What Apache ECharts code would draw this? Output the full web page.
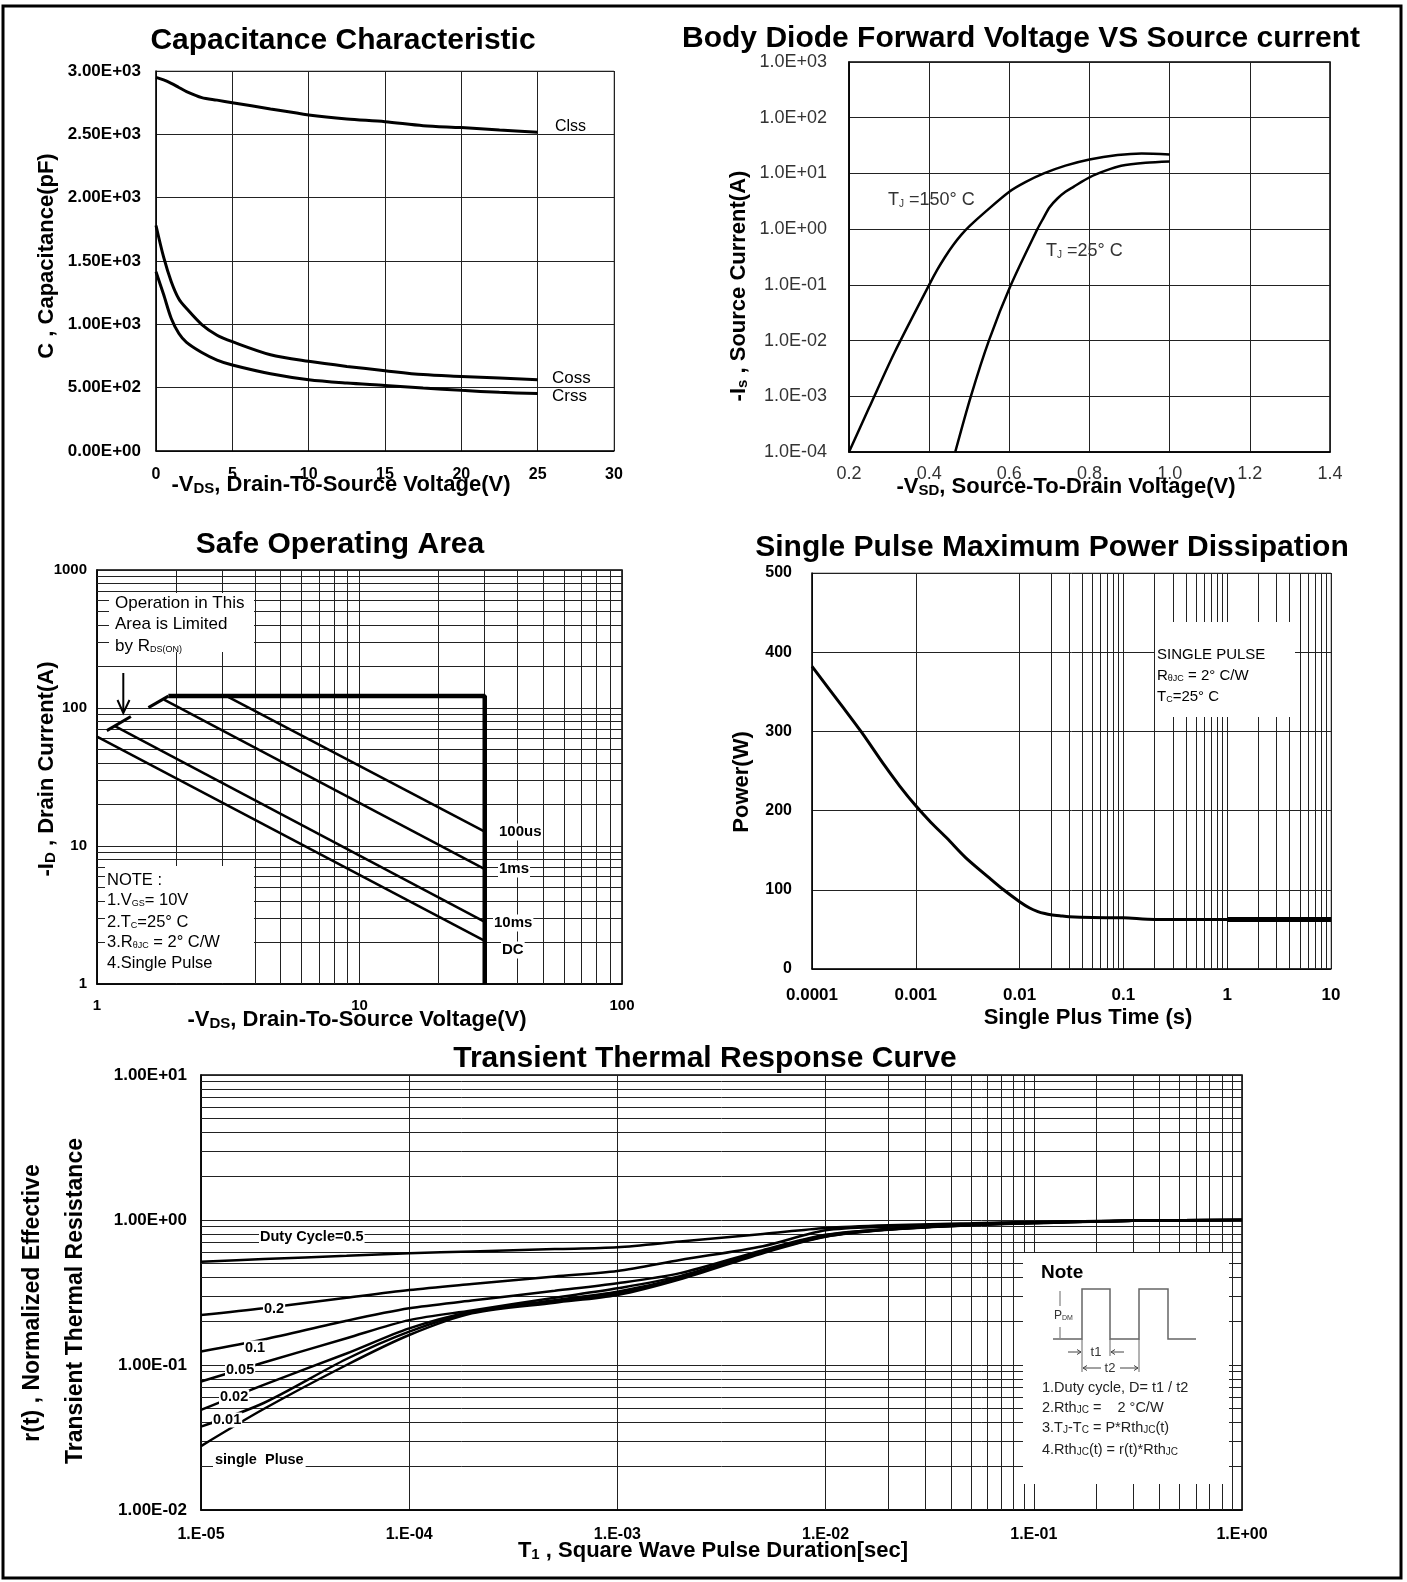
<!DOCTYPE html>
<html>
<head>
<meta charset="utf-8">
<script src="https://cdn.jsdelivr.net/npm/echarts@6/dist/echarts.min.js"></script>
<style>
  html, body { margin: 0; background: #fff; }
  #chart { width: 1407px; height: 1582px; }
</style>
</head>
<body>
<div id="chart"></div>
<script>
const FONT = '"Liberation Sans", Arial, Helvetica, sans-serif';

// Capacitance characteristic
const capVds = [0, 0.5, 1, 1.5, 2, 3, 4, 5, 7.5, 10, 12.5, 15, 17.5, 20, 22.5, 25];
const ciss = [2950, 2930, 2903, 2870, 2837, 2790, 2770, 2750, 2700, 2653, 2621, 2600, 2568, 2553, 2534, 2516];
const coss = [1780, 1530, 1337, 1200, 1125, 998, 914, 863, 760, 708, 668, 634, 603, 589, 576, 563];
const crss = [1415, 1235, 1046, 928, 858, 778, 718, 679, 610, 563, 537, 518, 497, 479, 463, 453];
const capXLabels = ['0', '5', '10', '15', '20', '25', '30'];
const capYLabels = ['0.00E+00', '5.00E+02', '1.00E+03', '1.50E+03', '2.00E+03', '2.50E+03', '3.00E+03'];

// Body diode forward voltage
const vsd150 = [0.2, 0.25, 0.313, 0.4, 0.42, 0.44, 0.46, 0.48, 0.5, 0.54, 0.6, 0.64, 0.686, 0.74, 0.8, 0.87, 0.93, 1.0];
const is150 = [1e-4, 6.2e-4, 0.006, 0.1, 0.185, 0.319, 0.518, 0.787, 1.12, 2.04, 4.69, 6.97, 10, 13.8, 17.8, 21.4, 22.9, 21.9];
const vsd25 = [0.465, 0.504, 0.549, 0.604, 0.67, 0.685, 0.70, 0.72, 0.74, 0.76, 0.8, 0.84, 0.879, 0.94, 1.0];
const is25 = [1e-4, 1e-3, 0.01, 0.1, 1.0, 1.58, 2.45, 3.55, 4.68, 5.75, 8.5, 11.2, 13.7, 15.5, 16.4];
const diodeXLabels = ['0.2', '0.4', '0.6', '0.8', '1.0', '1.2', '1.4'];
const diodeYLabels = ['1.0E-04', '1.0E-03', '1.0E-02', '1.0E-01', '1.0E+00', '1.0E+01', '1.0E+02', '1.0E+03'];

// Safe operating area
const limitV = [1.87, 30, 30];
const limitI = [122, 122, 1];
const us100V = [3.17, 30];
const us100I = [120, 12.7];
const ms1V = [1.8, 30];
const ms1I = [115, 6.8];
const ms10V = [1.17, 30];
const ms10I = [74, 2.82];
const dcV = [1, 30];
const dcI = [62, 2.05];
const rdsLowV = [1.09, 1.346];
const rdsLowI = [68.6, 86.7];
const rdsHighV = [1.57, 1.87];
const rdsHighI = [100.7, 122];
const soaXLabels = ['1', '10', '100'];
const soaYLabels = ['1', '10', '100', '1000'];

// Single pulse power
const pulseT = [1e-4, 2e-4, 3e-4, 5e-4, 7e-4, 1e-3, 1.4e-3, 2e-3, 3e-3, 5e-3, 7e-3, 1e-2, 1.25e-2, 1.5e-2, 1.75e-2, 2e-2, 2.5e-2, 3e-2, 5e-2, 0.1, 0.2, 0.5, 1, 10];
const pulseP = [382, 330, 299, 257, 231, 206, 185, 165, 141, 116, 100, 85, 77, 72.5, 70, 68.5, 67, 66, 65, 64.6, 62.5, 62.5, 62.5, 62.5];
const pulseTailT = [1, 10];
const pulseTailP = [62.5, 62.5];
const pulseXLabels = ['0.0001', '0.001', '0.01', '0.1', '1', '10'];
const pulseYLabels = ['0', '100', '200', '300', '400', '500'];

// Transient thermal response
const thermT = [1e-5, 2e-5, 5e-5, 1e-4, 2e-4, 5e-4, 1e-3, 2e-3, 5e-3, 1e-2, 2e-2, 5e-2, 1e-1, 3e-1, 1];
const rD05 = [0.516, 0.538, 0.566, 0.589, 0.607, 0.63, 0.648, 0.71, 0.80, 0.88, 0.92, 0.95, 0.97, 0.99, 1.0];
const rD02 = [0.221, 0.246, 0.291, 0.329, 0.362, 0.408, 0.445, 0.53, 0.66, 0.85, 0.90, 0.94, 0.965, 0.99, 1.0];
const rD01 = [0.124, 0.15, 0.202, 0.246, 0.278, 0.325, 0.366, 0.43, 0.62, 0.79, 0.87, 0.93, 0.96, 0.99, 1.0];
const rD005 = [0.077, 0.104, 0.153, 0.204, 0.238, 0.291, 0.338, 0.41, 0.61, 0.785, 0.865, 0.93, 0.96, 0.99, 1.0];
const rD002 = [0.049, 0.073, 0.12, 0.179, 0.233, 0.28, 0.32, 0.40, 0.60, 0.775, 0.86, 0.925, 0.955, 0.99, 1.0];
const rD001 = [0.0376, 0.0547, 0.11, 0.170, 0.23, 0.275, 0.312, 0.395, 0.60, 0.77, 0.86, 0.925, 0.955, 0.99, 1.0];
const rSingle = [0.0276, 0.0497, 0.10, 0.161, 0.227, 0.269, 0.304, 0.39, 0.59, 0.765, 0.855, 0.92, 0.95, 0.99, 1.0];
const thermXLabels = ['1.E-05', '1.E-04', '1.E-03', '1.E-02', '1.E-01', '1.E+00'];
const thermYLabels = ['1.00E-02', '1.00E-01', '1.00E+00', '1.00E+01'];

function pairs(xs, ys) {
  return xs.map(function (x, i) { return [x, ys[i]]; });
}
function lg(v) { return Math.round(Math.log10(v)); }

// 2..9 grid lines inside each decade of a log axis
function logMinors(lo, hi) {
  var out = [];
  for (var e = Math.floor(Math.log10(lo)); e < Math.log10(hi); e++) {
    for (var m = 2; m <= 9; m++) {
      var v = m * Math.pow(10, e);
      if (v > lo && v < hi) out.push(v);
    }
  }
  return out;
}

function axis(grid, type, min, max, label, extra) {
  return Object.assign({
    gridIndex: grid, type: type, min: min, max: max,
    axisLine: { show: true, onZero: false, lineStyle: { color: '#000', width: 1.5 } },
    axisTick: { show: false },
    splitLine: { show: true, lineStyle: { color: '#222', width: 1 } },
    axisLabel: Object.assign({ color: '#000', fontFamily: FONT, fontSize: 16, fontWeight: 'bold' }, label)
  }, extra || {});
}

function curve(g, data, w, extra) {
  return Object.assign({
    type: 'line', xAxisIndex: g, yAxisIndex: g, data: data,
    symbol: 'none', showSymbol: false, smooth: 0.3, silent: true, z: 10,
    lineStyle: { color: '#000', width: w }
  }, extra || {});
}

function minorGrid(g, xs, ys) {
  return {
    type: 'line', xAxisIndex: g, yAxisIndex: g, data: [], silent: true, z: 1,
    markLine: {
      silent: true, z: 1, symbol: ['none', 'none'], label: { show: false },
      emphasis: { disabled: true },
      lineStyle: { color: '#222', width: 1, type: 'solid' },
      data: xs.map(function (v) { return { xAxis: v }; }).concat(ys.map(function (v) { return { yAxis: v }; }))
    }
  };
}

// graphic helpers
function T(x, y, text, size, o) {
  o = o || {};
  return {
    type: 'text', x: x, y: y, z: 100, silent: true, rotation: o.rot || 0,
    style: {
      text: text, fontFamily: FONT, fontSize: size, fontWeight: o.bold ? 'bold' : 'normal',
      fill: o.color || '#000', textAlign: o.align || 'left', verticalAlign: 'middle', textVerticalAlign: 'middle',
      backgroundColor: o.bg, padding: o.pad, rich: o.rich
    }
  };
}
function sub(size, bold, color) {
  return { s: { fontSize: size, fontFamily: FONT, fontWeight: bold ? 'bold' : 'normal', fill: color || '#000', verticalAlign: 'bottom' } };
}
function L(points, w, color) {
  return { type: 'polyline', z: 100, silent: true, shape: { points: points }, style: { stroke: color || '#000', lineWidth: w } };
}
function box(x, y, w, h) {
  return { type: 'rect', z: 90, silent: true, shape: { x: x, y: y, width: w, height: h }, style: { fill: '#fff' } };
}

var graphics = [
  // titles
  T(343, 41, 'Capacitance Characteristic', 30, { bold: true, align: 'center' }),
  T(1021, 39, 'Body Diode Forward Voltage VS Source current', 30, { bold: true, align: 'center' }),
  T(340, 545, 'Safe Operating Area', 30, { bold: true, align: 'center' }),
  T(1052, 548, 'Single Pulse Maximum Power Dissipation', 30, { bold: true, align: 'center' }),
  T(705, 1059, 'Transient Thermal Response Curve', 30, { bold: true, align: 'center' }),

  // axis names
  T(341, 485, '-V{s|DS}, Drain-To-Source Voltage(V)', 22, { bold: true, align: 'center', rich: sub(15, true) }),
  T(47, 256, 'C , Capacitance(pF)', 22, { bold: true, align: 'center', rot: Math.PI / 2 }),
  T(1066, 487, '-V{s|SD}, Source-To-Drain Voltage(V)', 22, { bold: true, align: 'center', rich: sub(15, true) }),
  T(739, 286, '-I{s|s} , Source Current(A)', 22, { bold: true, align: 'center', rot: Math.PI / 2, rich: sub(15, true) }),
  T(357, 1020, '-V{s|DS}, Drain-To-Source Voltage(V)', 22, { bold: true, align: 'center', rich: sub(15, true) }),
  T(47, 769, '-I{s|D} , Drain Current(A)', 22, { bold: true, align: 'center', rot: Math.PI / 2, rich: sub(15, true) }),
  T(1088, 1018, 'Single Plus Time (s)', 22, { bold: true, align: 'center' }),
  T(742, 782, 'Power(W)', 22, { bold: true, align: 'center', rot: Math.PI / 2 }),
  T(713, 1551, 'T{s|1} , Square Wave Pulse Duration[sec]', 22, { bold: true, align: 'center', rich: sub(15, true) }),
  T(33, 1303, 'r(t) , Normalized Effective', 23, { bold: true, align: 'center', rot: Math.PI / 2 }),
  T(76, 1301, 'Transient Thermal Resistance', 23, { bold: true, align: 'center', rot: Math.PI / 2 }),

  // capacitance labels
  T(555, 127, 'Clss', 16),
  T(552, 378, 'Coss', 17),
  T(552, 396, 'Crss', 17),

  // diode labels
  T(888, 200, 'T{s|J} =150° C', 18, { color: '#333', rich: sub(10, false, '#333') }),
  T(1046, 251, 'T{s|J} =25° C', 18, { color: '#333', rich: sub(10, false, '#333') }),

  // SOA annotations
  box(109, 593, 145, 59),
  T(115, 603, 'Operation in This', 17),
  T(115, 624, 'Area is Limited', 17),
  T(115, 646, 'by R{s|DS(ON)}', 17, { rich: sub(9) }),
  L([[123.3, 673], [123.3, 712]], 2),
  L([[117.5, 700], [123.3, 713], [129.5, 700]], 2),
  box(105, 866, 149, 117),
  T(107, 880, 'NOTE :', 16.5),
  T(107, 900, '1.V{s|GS}= 10V', 16.5, { rich: sub(9) }),
  T(107, 922, '2.T{s|C}=25° C', 16.5, { rich: sub(9) }),
  T(107, 942, '3.R{s|θJC} = 2° C/W', 16.5, { rich: sub(9) }),
  T(107, 963, '4.Single Pulse', 16.5),
  T(498, 832, '100us', 15, { bold: true, bg: '#fff', pad: [1, 1] }),
  T(498, 869, '1ms', 15, { bold: true, bg: '#fff', pad: [1, 1] }),
  T(493, 923, '10ms', 15, { bold: true, bg: '#fff', pad: [1, 1] }),
  T(501, 950, 'DC', 15, { bold: true, bg: '#fff', pad: [1, 1] }),

  // power legend
  box(1155, 622, 140, 95),
  T(1157, 655, 'SINGLE PULSE', 15),
  T(1157, 676, 'R{s|θJC} = 2° C/W', 15, { rich: sub(9) }),
  T(1157, 697, 'T{s|C}=25° C', 15, { rich: sub(9) }),

  // transient curve labels
  T(259, 1237, 'Duty Cycle=0.5', 14.5, { bold: true, bg: '#fff', pad: [0, 1] }),
  T(263, 1309, '0.2', 14.5, { bold: true, bg: '#fff', pad: [0, 1] }),
  T(244, 1348, '0.1', 14.5, { bold: true, bg: '#fff', pad: [0, 1] }),
  T(225, 1370, '0.05', 14.5, { bold: true, bg: '#fff', pad: [0, 1] }),
  T(219, 1397, '0.02', 14.5, { bold: true, bg: '#fff', pad: [0, 1] }),
  T(212, 1420, '0.01', 14.5, { bold: true, bg: '#fff', pad: [0, 1] }),
  T(213, 1460, 'single  Pluse', 14.5, { bold: true, bg: '#fff', pad: [0, 2] }),

  // transient note
  box(1023, 1253, 206, 231),
  T(1041, 1273, 'Note', 19, { bold: true }),
  L([[1053, 1339], [1082, 1339], [1082, 1289], [1110, 1289], [1110, 1339], [1139, 1339], [1139, 1289], [1168, 1289], [1168, 1339], [1196, 1339]], 1.5, '#666'),
  L([[1060, 1291], [1060, 1306]], 1, '#666'),
  L([[1060, 1327], [1060, 1338]], 1, '#666'),
  T(1054, 1316, 'P{s|DM}', 12, { color: '#333', rich: sub(7, false, '#333') }),
  L([[1082, 1339], [1082, 1372]], 1, '#666'),
  L([[1110, 1339], [1110, 1356]], 1, '#666'),
  L([[1139, 1339], [1139, 1372]], 1, '#666'),
  L([[1068, 1352], [1081, 1352]], 1, '#444'),
  L([[1077, 1349.5], [1081, 1352], [1077, 1354.5]], 1, '#444'),
  L([[1111, 1352], [1124, 1352]], 1, '#444'),
  L([[1115, 1349.5], [1111, 1352], [1115, 1354.5]], 1, '#444'),
  T(1096, 1352, 't1', 13, { align: 'center', color: '#333' }),
  L([[1083, 1368], [1101, 1368]], 1, '#444'),
  L([[1087, 1365.5], [1083, 1368], [1087, 1370.5]], 1, '#444'),
  L([[1120, 1368], [1138, 1368]], 1, '#444'),
  L([[1134, 1365.5], [1138, 1368], [1134, 1370.5]], 1, '#444'),
  T(1110, 1368, 't2', 13, { align: 'center', color: '#333' }),
  T(1042, 1388, '1.Duty cycle, D= t1 / t2', 14.5, { color: '#222' }),
  T(1042, 1408, '2.Rth{s|JC} =    2 °C/W', 14.5, { color: '#222', rich: sub(10, false, '#222') }),
  T(1042, 1428, '3.T{s|J}-T{s|C} = P*Rth{s|JC}(t)', 14.5, { color: '#222', rich: sub(10, false, '#222') }),
  T(1042, 1450, '4.Rth{s|JC}(t) = r(t)*Rth{s|JC}', 14.5, { color: '#222', rich: sub(10, false, '#222') }),

  // outer frame
  { type: 'rect', z: 110, silent: true, shape: { x: 3, y: 6, width: 1398, height: 1572 }, style: { fill: 'rgba(0,0,0,0)', stroke: '#000', lineWidth: 3 } }
];

var option = {
  animation: false,
  backgroundColor: '#fff',
  grid: [
    { left: 156, top: 71, width: 458, height: 380, show: true, borderColor: '#888', borderWidth: 1 },
    { left: 849, top: 62, width: 481, height: 390, show: true, borderColor: '#000', borderWidth: 1.5 },
    { left: 97, top: 570, width: 525, height: 414, show: true, borderColor: '#000', borderWidth: 1.5 },
    { left: 812, top: 573, width: 519, height: 396, show: true, borderColor: '#888', borderWidth: 1 },
    { left: 201, top: 1075, width: 1041, height: 435, show: true, borderColor: '#000', borderWidth: 1.5 }
  ],
  xAxis: [
    axis(0, 'value', 0, 30, { margin: 16, fontSize: 16, formatter: function (v) { return capXLabels[Math.round(v / 5)]; } }, { interval: 5 }),
    axis(1, 'value', 0.2, 1.4, { margin: 13, fontSize: 18, fontWeight: 'normal', color: '#333', formatter: function (v) { return diodeXLabels[Math.round((v - 0.2) / 0.2)]; } }, { interval: 0.2 }),
    axis(2, 'log', 1, 100, { margin: 14, fontSize: 15, formatter: function (v) { return soaXLabels[lg(v)]; } }),
    axis(3, 'log', 1e-4, 10, { margin: 18, fontSize: 17, formatter: function (v) { return pulseXLabels[lg(v) + 4]; } }),
    axis(4, 'log', 1e-5, 1, { margin: 17, fontSize: 16, formatter: function (v) { return thermXLabels[lg(v) + 5]; } })
  ],
  yAxis: [
    axis(0, 'value', 0, 3000, { margin: 15, fontSize: 17, formatter: function (v) { return capYLabels[Math.round(v / 500)]; } }, { interval: 500 }),
    axis(1, 'log', 1e-4, 1e3, { margin: 22, fontSize: 18, fontWeight: 'normal', color: '#333', formatter: function (v) { return diodeYLabels[lg(v) + 4]; } }),
    axis(2, 'log', 1, 1000, { margin: 10, fontSize: 15, formatter: function (v) { return soaYLabels[lg(v)]; } }),
    axis(3, 'value', 0, 500, { margin: 20, fontSize: 16, formatter: function (v) { return pulseYLabels[Math.round(v / 100)]; } }, { interval: 100 }),
    axis(4, 'log', 1e-2, 10, { margin: 14, fontSize: 17, formatter: function (v) { return thermYLabels[lg(v) + 2]; } })
  ],
  series: [
    // fine log grids
    minorGrid(2, logMinors(1, 100), logMinors(1, 1000)),
    minorGrid(3, logMinors(1e-4, 10), []),
    minorGrid(4, logMinors(1e-5, 1), logMinors(1e-2, 10)),

    curve(0, pairs(capVds, ciss), 3),
    curve(0, pairs(capVds, coss), 3),
    curve(0, pairs(capVds, crss), 3),

    curve(1, pairs(vsd150, is150), 2.5),
    curve(1, pairs(vsd25, is25), 2.5),

    curve(2, pairs(limitV, limitI), 4.5, { smooth: false }),
    curve(2, pairs(us100V, us100I), 2.5, { smooth: false }),
    curve(2, pairs(ms1V, ms1I), 2.5, { smooth: false }),
    curve(2, pairs(ms10V, ms10I), 2.5, { smooth: false }),
    curve(2, pairs(dcV, dcI), 2.5, { smooth: false }),
    curve(2, pairs(rdsLowV, rdsLowI), 3, { smooth: false }),
    curve(2, pairs(rdsHighV, rdsHighI), 3, { smooth: false }),

    curve(3, pairs(pulseT, pulseP), 3),
    curve(3, pairs(pulseTailT, pulseTailP), 5, { smooth: false }),

    curve(4, pairs(thermT, rD05), 2.5),
    curve(4, pairs(thermT, rD02), 2.5),
    curve(4, pairs(thermT, rD01), 2.5),
    curve(4, pairs(thermT, rD005), 2.5),
    curve(4, pairs(thermT, rD002), 2.5),
    curve(4, pairs(thermT, rD001), 2.5),
    curve(4, pairs(thermT, rSingle), 2.5)
  ],
  graphic: { elements: graphics }
};

var chart = echarts.init(document.getElementById('chart'), null, { renderer: 'canvas' });
chart.setOption(option);
</script>
</body>
</html>
